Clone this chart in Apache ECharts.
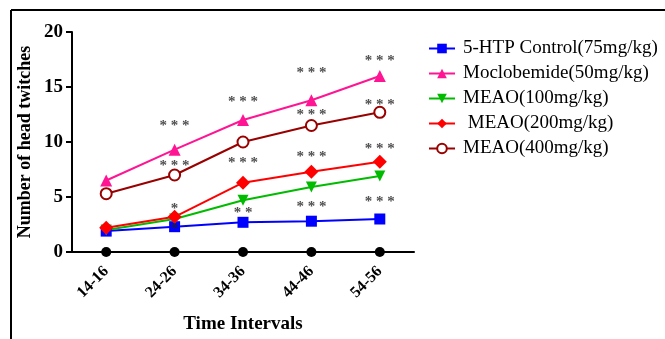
<!DOCTYPE html>
<html>
<head>
<meta charset="utf-8">
<script src="https://cdn.jsdelivr.net/npm/echarts@6/dist/echarts.min.js"></script>
<style>
html,body{margin:0;padding:0;background:#fff;}
#main{width:665px;height:339px;}
</style>
</head>
<body>
<div id="main"></div>
<script>
var categories = ['14-16', '24-26', '34-36', '44-46', '54-56'];
var htpControl = [1.9, 2.3, 2.7, 2.8, 3.0];
var moclobemide = [6.5, 9.3, 12.0, 13.8, 16.0];
var meao100 = [2.0, 3.0, 4.7, 5.9, 6.9];
var meao200 = [2.2, 3.2, 6.3, 7.3, 8.2];
var meao400 = [5.3, 7.0, 10.0, 11.5, 12.7];
var normal = [0, 0, 0, 0, 0];
// significance marks: [category, y, text]
var stars = [
  ['24-26', 11.8, '***'], ['24-26', 8.2, '***'], ['24-26', 4.3, '*'], ['24-26', 2.4, '*'],
  ['34-36', 14.0, '***'], ['34-36', 8.4, '***'], ['34-36', 3.9, '**'],
  ['44-46', 16.6, '***'], ['44-46', 12.8, '***'], ['44-46', 9.0, '***'], ['44-46', 4.4, '***'],
  ['54-56', 17.7, '***'], ['54-56', 13.7, '***'], ['54-56', 9.7, '***'], ['54-56', 4.9, '***']
];

var serif = '"Liberation Serif", "DejaVu Serif", serif';

function lineSeries(name, data, color, symbol, size, extra) {
  var s = {
    name: name,
    type: 'line',
    data: data,
    symbol: symbol,
    symbolSize: size,
    lineStyle: {color: color, width: 2},
    itemStyle: {color: color},
    z: 3
  };
  if (extra) { for (var k in extra) s[k] = extra[k]; }
  return s;
}

var myChart = echarts.init(document.getElementById('main'));
var option = {
  backgroundColor: '#fff',
  animation: false,
  graphic: [
    {type: 'line', shape: {x1: 11, y1: 10, x2: 665, y2: 10}, style: {stroke: '#000', lineWidth: 2}},
    {type: 'line', shape: {x1: 11, y1: 10, x2: 11, y2: 339}, style: {stroke: '#000', lineWidth: 2}}
  ],
  grid: {left: 72, right: 251, top: 32, bottom: 87, containLabel: false, outerBoundsMode: 'none'},
  legend: {
    orient: 'vertical',
    left: 423,
    top: 34,
    itemWidth: 26,
    itemHeight: 12,
    itemGap: 6,
    data: ['5-HTP Control(75mg/kg)', 'Moclobemide(50mg/kg)', 'MEAO(100mg/kg)', ' MEAO(200mg/kg)', 'MEAO(400mg/kg)'],
    textStyle: {fontFamily: serif, fontSize: 19, lineHeight: 19, color: '#000', padding: [0, 0, 0, 3]}
  },
  xAxis: {
    type: 'category',
    data: categories,
    boundaryGap: true,
    name: 'Time Intervals',
    nameLocation: 'middle',
    nameGap: 63,
    nameTextStyle: {fontFamily: serif, fontSize: 19, fontWeight: 'bold', color: '#000'},
    axisLine: {lineStyle: {color: '#000', width: 2}},
    axisTick: {show: false},
    axisLabel: {rotate: 45, margin: 17, fontFamily: serif, fontSize: 16, fontWeight: 'bold', color: '#000'}
  },
  yAxis: {
    type: 'value',
    min: 0,
    max: 20,
    interval: 5,
    name: 'Number of head twitches',
    nameLocation: 'middle',
    nameGap: 38,
    nameMoveOverlap: false,
    nameTextStyle: {fontFamily: serif, fontSize: 18, fontWeight: 'bold', color: '#000'},
    axisLine: {show: true, lineStyle: {color: '#000', width: 2}},
    axisTick: {show: true, length: 6, lineStyle: {color: '#000', width: 2}},
    axisLabel: {margin: 9, fontFamily: serif, fontSize: 19, fontWeight: 'bold', color: '#000'},
    splitLine: {show: false}
  },
  series: [
    lineSeries('Normal', normal, '#000', 'circle', 10, {lineStyle: {color: '#000', width: 0}, z: 2}),
    lineSeries('5-HTP Control(75mg/kg)', htpControl, '#0000ff', 'rect', 11),
    lineSeries('Moclobemide(50mg/kg)', moclobemide, '#ff1493', 'triangle', 12),
    lineSeries('MEAO(100mg/kg)', meao100, '#00bb00', 'triangle', 11, {symbolRotate: 180}),
    lineSeries(' MEAO(200mg/kg)', meao200, '#ff0000', 'diamond', 14),
    lineSeries('MEAO(400mg/kg)', meao400, '#990000', 'emptyCircle', 11, {
      itemStyle: {color: '#990000', borderWidth: 2.5}
    }),
    {
      type: 'scatter',
      data: stars,
      symbolSize: 0,
      z: 5,
      label: {
        show: true,
        position: 'inside',
        offset: [0, 4],
        formatter: function (p) { return p.data[2].split('').join(' '); },
        fontFamily: serif,
        fontSize: 15,
        fontWeight: 'bold',
        color: '#222'
      }
    }
  ]
};
myChart.setOption(option);
</script>
</body>
</html>
